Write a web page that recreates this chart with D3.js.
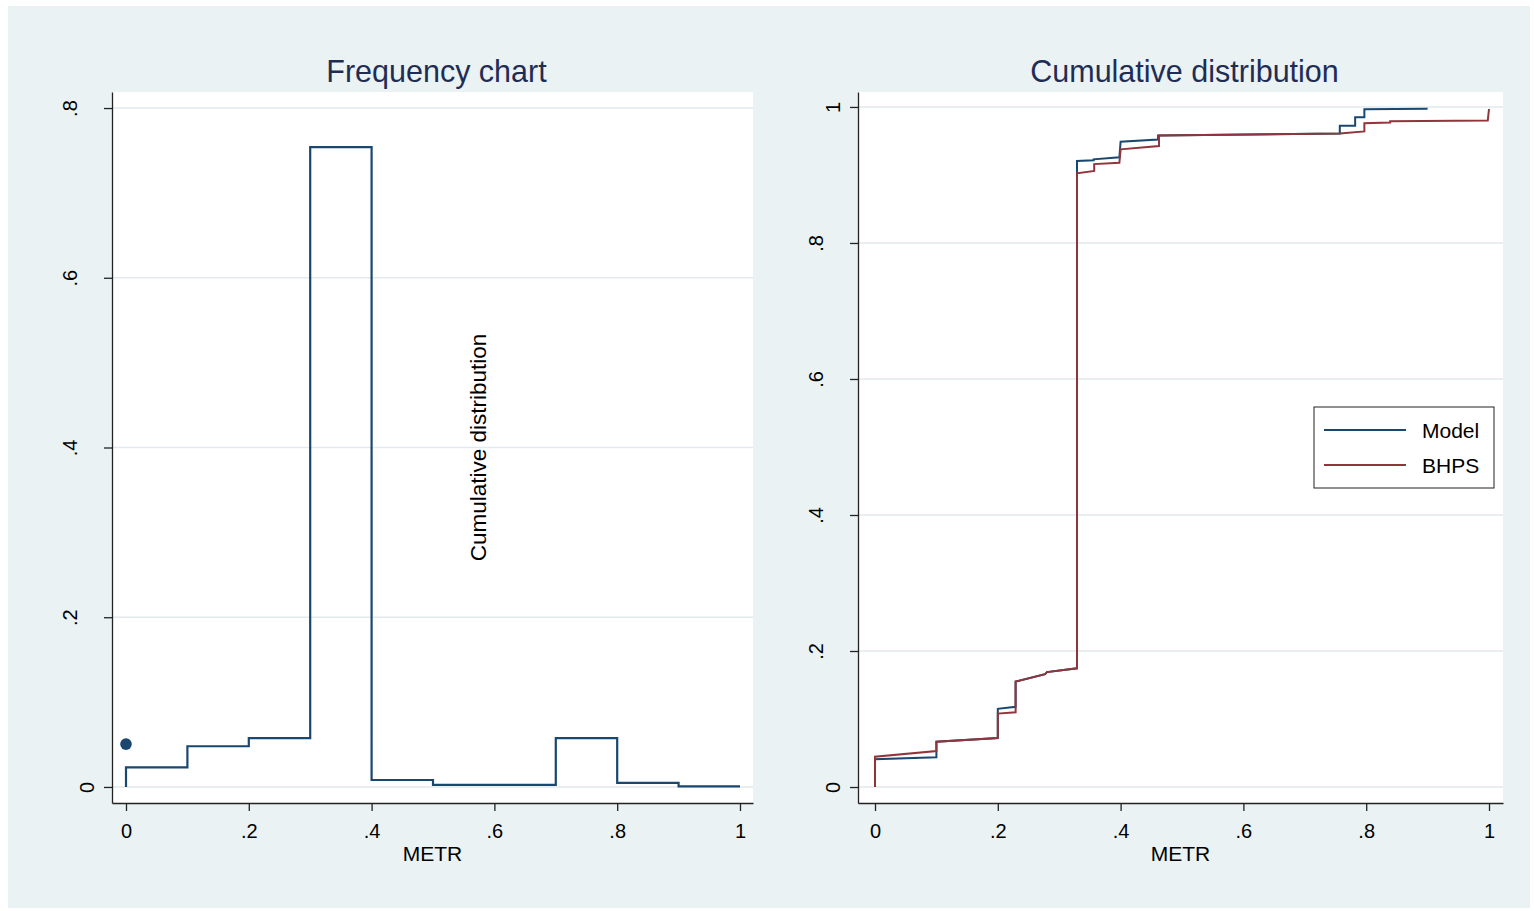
<!DOCTYPE html>
<html>
<head>
<meta charset="utf-8">
<script src="https://cdn.jsdelivr.net/npm/d3@7"></script>
<style>
  body { margin: 0; background: #fff; }
  svg text { font-family: "Liberation Sans", Arial, sans-serif; }
</style>
</head>
<body>
<svg id="chart" width="1534" height="911"></svg>
<script>
'use strict';

// histogram of METR (left panel)
const binEdges = [0, .1, .2, .3, .4, .5, .6, .7, .8, .9, 1];
const binFreq = [0.023, 0.048, 0.0575, 0.754, 0.0082, 0.0024, 0.0024, 0.0575, 0.0047, 0.0008];
const markerPoint = [0, 0.0505];

// cumulative distributions (right panel)
const modelX = [0, 0, 0.1, 0.1, 0.2, 0.2, 0.229, 0.229, 0.277, 0.28, 0.329, 0.329,
  0.356, 0.356, 0.398, 0.4, 0.461, 0.461, 0.757, 0.757, 0.782, 0.782, 0.797, 0.797, 0.9];
const modelY = [0, 0.0407, 0.0437, 0.0666, 0.072, 0.115, 0.118, 0.155, 0.166, 0.169, 0.1745, 0.9206,
  0.9215, 0.923, 0.926, 0.949, 0.952, 0.958, 0.961, 0.9725, 0.9725, 0.985, 0.985, 0.9966, 0.9975];
const bhpsX = [0, 0, 0.1, 0.1, 0.2, 0.2, 0.229, 0.229, 0.277, 0.28, 0.329, 0.329,
  0.357, 0.357, 0.398, 0.4, 0.4625, 0.4625, 0.757, 0.797, 0.797, 0.839, 0.839, 0.998, 1];
const bhpsY = [0, 0.0446, 0.053, 0.0666, 0.072, 0.108, 0.11, 0.155, 0.166, 0.169, 0.1745, 0.9025,
  0.906, 0.916, 0.918, 0.9377, 0.9426, 0.958, 0.961, 0.964, 0.976, 0.977, 0.979, 0.98, 0.997];

const freqTicksY = [0, .2, .4, .6, .8];
const cumTicksY = [0, .2, .4, .6, .8, 1];
const ticksX = [0, .2, .4, .6, .8, 1];
const seriesNames = ['Model', 'BHPS'];
const seriesColors = ['#1a476f', '#90353b'];

const svg = d3.select('#chart');

svg.append('rect')
  .attr('x', 8).attr('y', 6)
  .attr('width', 1522).attr('height', 902)
  .attr('fill', '#eaf2f3');

// stata style labels: 0, .2, .4, 1
const stataFmt = d => (d === 0 || d === 1) ? String(d) : String(d).replace(/^0/, '');

function panel(o) {
  const g = svg.append('g');

  g.append('rect')
    .attr('x', o.left).attr('y', o.top)
    .attr('width', o.right - o.left).attr('height', o.bottom - o.top)
    .attr('fill', '#fff');

  const x = d3.scaleLinear().domain(o.xDomain).range([o.left, o.right]);
  const y = d3.scaleLinear().domain(o.yDomain).range([o.bottom, o.top]);

  g.append('g')
    .selectAll('line')
    .data(o.yTicks)
    .join('line')
    .attr('x1', o.left).attr('x2', o.right)
    .attr('y1', d => y(d)).attr('y2', d => y(d))
    .attr('stroke', '#e2eaed')
    .attr('stroke-width', 1.6);

  const ax = g.append('g')
    .attr('transform', `translate(0,${o.bottom})`)
    .call(d3.axisBottom(x).tickValues(ticksX).tickFormat(stataFmt).tickSize(8).tickSizeOuter(0));

  ax.selectAll('text')
    .attr('y', 35).attr('dy', null)
    .attr('font-size', 20).attr('fill', '#000');

  const ay = g.append('g')
    .attr('transform', `translate(${o.left},0)`)
    .call(d3.axisLeft(y).tickValues(o.yTicks).tickFormat(stataFmt).tickSize(8).tickSizeOuter(0));

  ay.selectAll('text')
    .attr('x', null).attr('dy', null)
    .attr('text-anchor', 'middle')
    .attr('font-size', 20).attr('fill', '#000')
    .attr('transform', d => `translate(${stataFmt(d).length > 1 ? -35 : -18},0) rotate(-90)`);

  g.selectAll('.domain, .tick line').attr('stroke', '#222').attr('stroke-width', 1.3);

  g.append('text')
    .attr('x', (o.left + o.right) / 2 + 4).attr('y', 82)
    .attr('text-anchor', 'middle')
    .attr('font-size', 30.5)
    .attr('fill', '#1f2d55')
    .text(o.title);

  g.append('text')
    .attr('x', (o.left + o.right) / 2).attr('y', 861)
    .attr('text-anchor', 'middle')
    .attr('font-size', 21)
    .attr('fill', '#000')
    .text('METR');

  return { g, x, y };
}

// left: frequency chart
const left = panel({
  left: 112, right: 753, top: 92, bottom: 803,
  xDomain: [-0.0228, 1.0212], yDomain: [-0.0189, 0.8189],
  yTicks: freqTicksY, title: 'Frequency chart'
});

const histPts = [[binEdges[0], 0]];
binFreq.forEach((v, i) => {
  histPts.push([binEdges[i], v], [binEdges[i + 1], v]);
});

left.g.append('path')
  .datum(histPts)
  .attr('fill', 'none')
  .attr('stroke', seriesColors[0])
  .attr('stroke-width', 2.2)
  .attr('d', d3.line().x(d => left.x(d[0])).y(d => left.y(d[1])));

left.g.append('circle')
  .attr('cx', left.x(markerPoint[0])).attr('cy', left.y(markerPoint[1]))
  .attr('r', 5.8)
  .attr('fill', seriesColors[0]);

left.g.append('text')
  .attr('transform', `translate(${left.x(0.574)},${left.y(0.4)}) rotate(-90)`)
  .attr('text-anchor', 'middle')
  .attr('dy', '0.35em')
  .attr('font-size', 22.5)
  .attr('fill', '#000')
  .text('Cumulative distribution');

// right: cumulative distribution
const right = panel({
  left: 858, right: 1503, top: 92, bottom: 803,
  xDomain: [-0.0277, 1.0228], yDomain: [-0.0235, 1.022],
  yTicks: cumTicksY, title: 'Cumulative distribution'
});

const cumLine = d3.line().x(d => right.x(d[0])).y(d => right.y(d[1]));
const cumSeries = [d3.zip(modelX, modelY), d3.zip(bhpsX, bhpsY)];

right.g.append('g')
  .selectAll('path')
  .data(cumSeries)
  .join('path')
  .attr('fill', 'none')
  .attr('stroke', (d, i) => seriesColors[i])
  .attr('stroke-width', 2)
  .attr('d', cumLine);

// legend
const legend = right.g.append('g').attr('transform', 'translate(1314,407)');

legend.append('rect')
  .attr('width', 180).attr('height', 81)
  .attr('fill', '#fff')
  .attr('stroke', '#222')
  .attr('stroke-width', 1);

const item = legend.selectAll('g.item')
  .data(seriesNames)
  .join('g')
  .attr('class', 'item')
  .attr('transform', (d, i) => `translate(0,${23 + i * 35})`);

item.append('line')
  .attr('x1', 10).attr('x2', 92)
  .attr('stroke', (d, i) => seriesColors[i])
  .attr('stroke-width', 2);

item.append('text')
  .attr('x', 108).attr('dy', '0.36em')
  .attr('font-size', 21)
  .attr('fill', '#000')
  .text(d => d);
</script>
</body>
</html>
